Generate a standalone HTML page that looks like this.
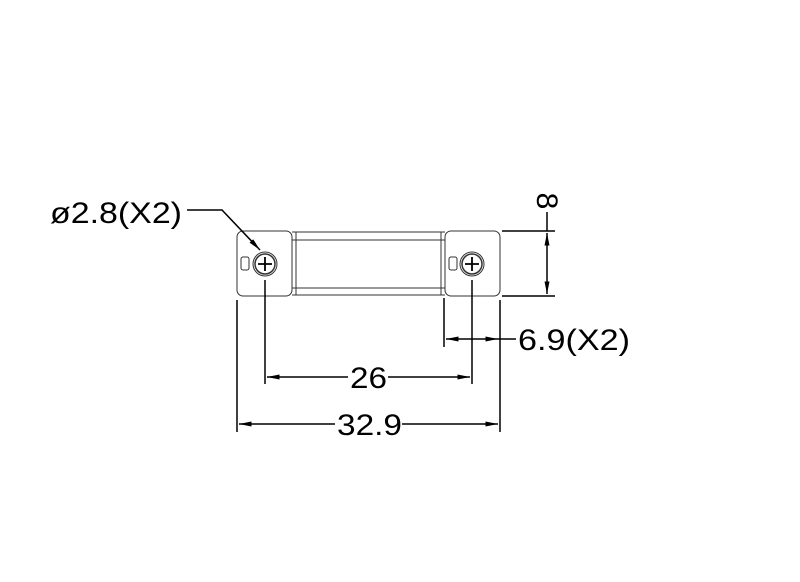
<!DOCTYPE html>
<html><head><style>
body{margin:0;background:#fff}
svg text{font-family:"Liberation Sans","DejaVu Sans",sans-serif;font-size:30px;fill:#000}
</style></head><body>
<svg width="800" height="577" viewBox="0 0 800 577" xmlns="http://www.w3.org/2000/svg">
<defs>
<marker id="a" viewBox="0 0 10 4" refX="10" refY="2" markerWidth="14" markerHeight="5" markerUnits="userSpaceOnUse" orient="auto-start-reverse"><path d="M0,0L10,2L0,4z" fill="#000"/></marker>
</defs>
<g fill="none" stroke="#333" stroke-width="1">
<rect x="237" y="231" width="55" height="65" rx="6"/>
<rect x="445" y="231" width="55" height="65" rx="6"/>
<path d="M292,232H445M292,240H445M292,288H445M292,295H445M296,232V295M441,232V295"/>
<rect x="241" y="257" width="8" height="13" rx="2"/>
<rect x="449" y="257" width="8" height="13" rx="2"/>
<circle cx="265" cy="264" r="12"/><circle cx="265" cy="264" r="10" stroke-width="1.5"/>
<circle cx="472" cy="264" r="12"/><circle cx="472" cy="264" r="10" stroke-width="1.5"/>
<path d="M258,264H272M265,257V271M465,264H479M472,257V271" stroke="#000" stroke-width="1.8"/>
</g>
<g fill="none" stroke="#000" stroke-width="1.5">
<path d="M502,231H555M502,296H555M547,212V231"/>
<path d="M547,233V294" marker-start="url(#a)" marker-end="url(#a)"/>
<path d="M237,300V432M500,300V432M265,280V384M472,280V384M444,298V347"/>
<path d="M239,424H335M402,424H498" marker-start="url(#a)" marker-end="url(#a)"/>
<path d="M267,377H348M388,377H470" marker-start="url(#a)" marker-end="url(#a)"/>
<path d="M472,339H446" marker-end="url(#a)"/>
<path d="M472,339H498" marker-end="url(#a)"/>
<path d="M498,339H516"/>
<path d="M187,210H222L260,250" marker-end="url(#a)"/>
</g>
<text x="50" y="223" textLength="132" lengthAdjust="spacingAndGlyphs">ø2.8(X2)</text>
<text x="518" y="350" textLength="112" lengthAdjust="spacingAndGlyphs">6.9(X2)</text>
<text x="350" y="388" textLength="37" lengthAdjust="spacingAndGlyphs">26</text>
<text x="337" y="435" textLength="65" lengthAdjust="spacingAndGlyphs">32.9</text>
<text transform="translate(537,201) rotate(90)" text-anchor="middle" y="0">8</text>
</svg>
</body></html>
